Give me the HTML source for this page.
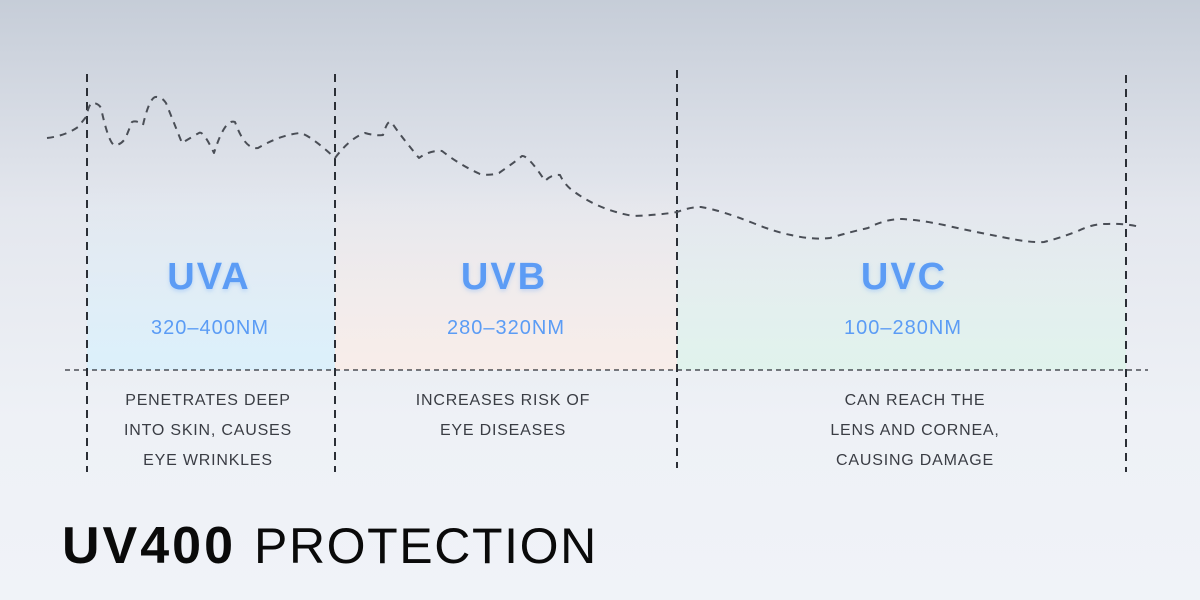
<!DOCTYPE html>
<html><head><meta charset="utf-8"><style>
html,body{margin:0;padding:0;width:1200px;height:600px;overflow:hidden}
svg{display:block}
</style></head><body>
<svg width="1200" height="600" viewBox="0 0 1200 600" xmlns="http://www.w3.org/2000/svg">
<defs>
<linearGradient id="bg" x1="0" y1="0" x2="0" y2="1">
<stop offset="0" stop-color="#c6cdd8"/>
<stop offset="0.35" stop-color="#e4e7ee"/>
<stop offset="0.7" stop-color="#eef1f6"/>
<stop offset="1" stop-color="#f0f3f8"/>
</linearGradient>
<linearGradient id="ga" x1="0" y1="0" x2="0" y2="1">
<stop offset="0" stop-color="#dcedf8" stop-opacity="0"/>
<stop offset="1" stop-color="#dbf0fb"/>
</linearGradient>
<linearGradient id="gb" x1="0" y1="0" x2="0" y2="1">
<stop offset="0" stop-color="#f6ebe8" stop-opacity="0"/>
<stop offset="1" stop-color="#f8ede9"/>
</linearGradient>
<linearGradient id="gc" x1="0" y1="0" x2="0" y2="1">
<stop offset="0" stop-color="#dff0ec" stop-opacity="0"/>
<stop offset="1" stop-color="#e0f3ec"/>
</linearGradient>
<filter id="sh"><feDropShadow dx="0" dy="2" stdDeviation="2" flood-color="#5b9cf5" flood-opacity="0.3"/></filter>
</defs>
<rect width="1200" height="600" fill="url(#bg)"/>
<rect x="87" y="180" width="248" height="190" fill="url(#ga)"/>
<rect x="335" y="180" width="342" height="190" fill="url(#gb)"/>
<rect x="677" y="210" width="449" height="160" fill="url(#gc)"/>
<g stroke="#2b2f36" stroke-width="2" stroke-dasharray="8,6" fill="none">
<line x1="87" y1="74" x2="87" y2="472"/>
<line x1="335" y1="74" x2="335" y2="472"/>
<line x1="677" y1="70" x2="677" y2="468"/>
<line x1="1126" y1="75" x2="1126" y2="472"/>
</g>
<line x1="65" y1="370" x2="1148" y2="370" stroke="#2b2f36" stroke-width="1.3" stroke-dasharray="5,4"/>
<path fill="none" stroke="#4a4e56" stroke-width="2" stroke-dasharray="7,6" stroke-linejoin="round" d="M47,138 Q65,136 78,127 L86,117 Q90,100 94,103 Q99,104 101,108 Q110,150 117,145 Q123,143 126,137 L132,122 Q137,120 143,125 Q150,95 157,97 Q162,97 166,103 L182,143 Q190,138 199,133 Q203,130 214,153 Q225,118 235,122 Q245,150 258,148 Q280,135 300,133 Q310,135 335,158 Q350,138 365,133 Q375,136 383,135 Q388,118 392,123 Q400,135 419,158 Q430,150 442,151 Q460,165 480,174 Q490,176 499,173 Q515,162 522,156 Q528,155 545,181 Q552,174 560,175 Q565,186 576,193 Q600,210 633,216 Q660,215 677,212 Q690,207 701,207 Q720,210 753,223 Q775,232 791,235 Q812,240 830,238 Q850,232 868,228 Q885,219 902,219 Q920,220 944,225 Q975,232 1002,237 Q1030,243 1044,242 Q1060,238 1078,231 Q1092,224 1105,224 Q1125,223 1140,227"/>
<g font-family="'Liberation Sans',sans-serif" text-anchor="middle">
<g fill="#5b9cf5" font-weight="bold" font-size="38" letter-spacing="2" filter="url(#sh)">
<text x="209" y="289">UVA</text>
<text x="504" y="289">UVB</text>
<text x="904" y="289">UVC</text>
</g>
<g fill="#5b9cf5" font-size="20" letter-spacing="1">
<text x="210" y="334">320–400NM</text>
<text x="506" y="334">280–320NM</text>
<text x="903" y="334">100–280NM</text>
</g>
<g fill="#3a3d44" font-size="16" letter-spacing="0.8">
<text x="208" y="405">PENETRATES DEEP</text>
<text x="208" y="435">INTO SKIN, CAUSES</text>
<text x="208" y="465">EYE WRINKLES</text>
<text x="503" y="405">INCREASES RISK OF</text>
<text x="503" y="435">EYE DISEASES</text>
<text x="915" y="405">CAN REACH THE</text>
<text x="915" y="435">LENS AND CORNEA,</text>
<text x="915" y="465">CAUSING DAMAGE</text>
</g>
</g>
<text x="62" y="563" font-family="'Liberation Sans',sans-serif" font-size="50" fill="#0a0a0a"><tspan font-weight="bold" font-size="52" letter-spacing="3">UV400</tspan><tspan dx="18" letter-spacing="1.6">PROTECTION</tspan></text>
</svg>
</body></html>
